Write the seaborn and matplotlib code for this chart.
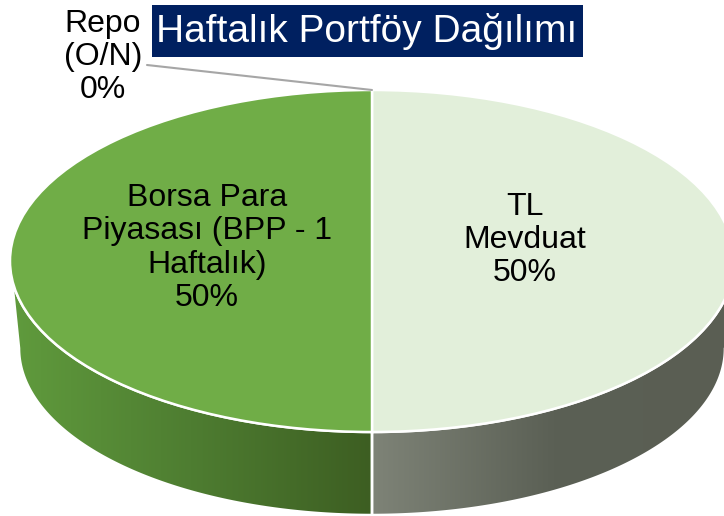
import numpy as np
import matplotlib
matplotlib.use("Agg")
import matplotlib.pyplot as plt
import seaborn as sns
from matplotlib.patches import Polygon, Rectangle
from matplotlib.colors import LinearSegmentedColormap

# ---- data ----
categories = ["Repo\n(O/N)", "TL\nMevduat", "Borsa Para\nPiyasası (BPP - 1\nHaftalık)"]
shares = [0, 50, 50]
pct_labels = ["0%", "50%", "50%"]
top_colors = ["#a6a6a6", "#e2efda", "#70ad47"]
side_gradients = [["#8a8a8a", "#6a6a6a"],
                  ["#7e8377", "#5b6055", "#5a5e53"],
                  ["#609b3d", "#4e7d31", "#3d5e22"]]
title = "Haftalık Portföy Dağılımı"

sns.set_theme(style="white")
plt.rcParams["font.family"] = ["Liberation Sans", "DejaVu Sans"]

W, H = 724, 516
fig = plt.figure(figsize=(W / 100, H / 100), dpi=100)
ax = fig.add_axes([0, 0, 1, 1])

# pixel geometry of the ellipse
cx, cy, A, B = 372.0, 261.0, 362.0, 171.0
bottom_py = 515.0
s = 0.975
yc_bot = -(bottom_py - cy) / B + s

def to_data(px, py):
    return (px - cx) / A, (cy - py) / B

# ---- side walls (front half) ----
fr = np.array(shares, dtype=float) / sum(shares)
start = 90.0
for i, f in enumerate(fr):
    end = start - 360 * f
    lo, hi = end, start
    a0, a1 = max(lo, -180.0), min(hi, 0.0)
    if a1 - a0 > 0.01:
        t = np.radians(np.linspace(a0, a1, 200))
        top = np.column_stack([np.cos(t), np.sin(t)])
        bot = np.column_stack([s * np.cos(t[::-1]), yc_bot + s * np.sin(t[::-1])])
        poly = Polygon(np.vstack([top, bot]), closed=True, facecolor="none",
                       edgecolor="white", linewidth=1.8, zorder=1)
        ax.add_patch(poly)
        cmap = LinearSegmentedColormap.from_list("g%d" % i, side_gradients[i])
        xmin, xmax = top[:, 0].min(), top[:, 0].max()
        grad = np.linspace(0, 1, 256).reshape(1, -1)
        im = ax.imshow(grad, cmap=cmap, aspect="auto", zorder=0.9,
                       extent=[xmin, xmax, yc_bot - s - 0.05, 0.05],
                       interpolation="bicubic")
        clip = Polygon(np.vstack([top, bot]), closed=True, transform=ax.transData)
        im.set_clip_path(clip)
    start = end

# ---- top face ----
ax.pie(shares, colors=top_colors, startangle=90, counterclock=False,
       radius=1, center=(0, 0),
       wedgeprops=dict(edgecolor="white", linewidth=1.8, zorder=2))

# ---- labels ----
label_px = [(103, 57), (525, 240), (207, 248)]
for name, pct, (px, py) in zip(categories, pct_labels, label_px):
    x, y = to_data(px, py)
    ax.text(x, y, name + "\n" + pct, ha="center", va="center",
            fontsize=23, color="black", linespacing=1.15, zorder=5)

# leader line for the zero slice
lx0, ly0 = to_data(147, 65)
lx1, ly1 = to_data(372, 90)
ax.plot([lx0, lx1], [ly0, ly1], color="#a6a6a6", linewidth=1.5, zorder=4)

ax.set_aspect("auto")
ax.set_xlim(to_data(0, 0)[0], to_data(W, 0)[0])
ax.set_ylim(to_data(0, H)[1], to_data(0, 0)[1])
ax.axis("off")

# ---- title box ----
fig.patches.append(Rectangle((152 / W, 1 - 57 / H), (583 - 152) / W, 52 / H,
                             transform=fig.transFigure, facecolor="#002060",
                             edgecolor="none", zorder=10))
fig.text(367 / W, 1 - 31 / H, title, ha="center", va="center",
         fontsize=28, color="white", zorder=11)

fig.savefig("out.png", dpi=100, facecolor="white")
